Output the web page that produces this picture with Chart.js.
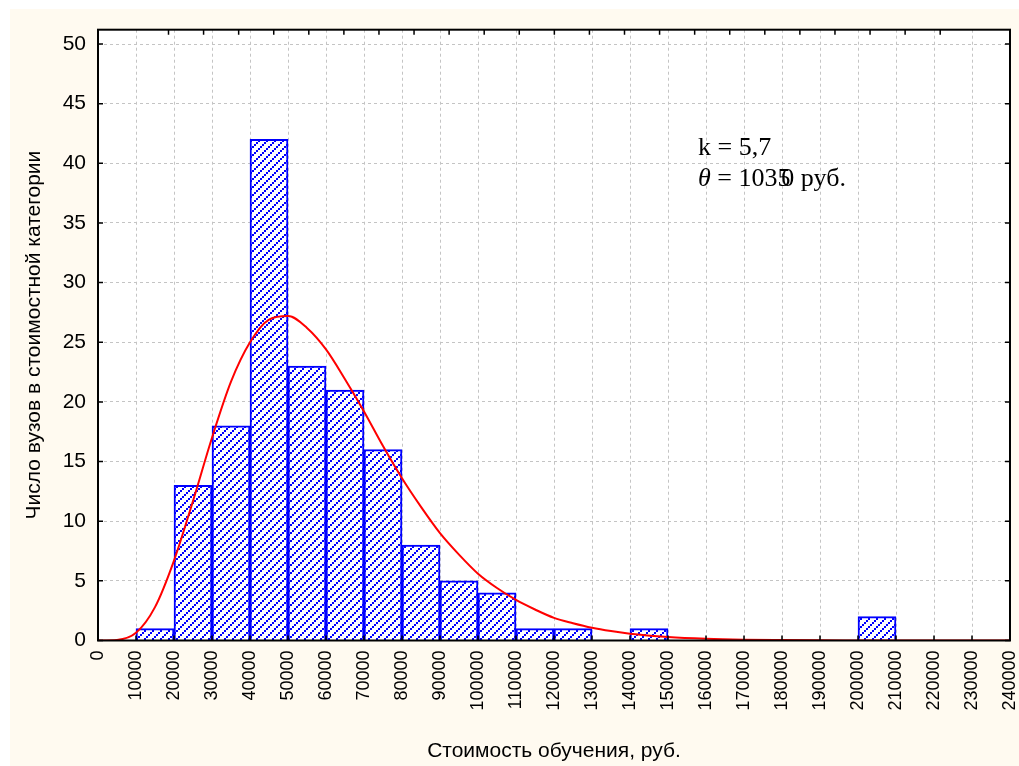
<!DOCTYPE html>
<html lang="ru">
<head>
    <meta charset="UTF-8">
    <title>Стоимость обучения</title>
    <script src="https://cdn.jsdelivr.net/npm/chart.js"></script>
    <style>
        body {
            margin: 0;
            background-color: #ffffff;
        }
        canvas {
            display: block;
        }
    </style>
</head>
<body>
    <canvas id="hist" width="1019" height="766"></canvas>

    <script>
        // Интервалы (левая граница, руб.) и число вузов
        const binLeft = [10000, 20000, 30000, 40000, 50000, 60000, 70000, 80000, 90000, 100000,
                         110000, 120000, 130000, 140000, 150000, 160000, 170000, 180000, 190000, 200000];
        const counts = [1, 13, 18, 42, 23, 21, 16, 8, 5, 4,
                        1, 1, 0, 1, 0, 0, 0, 0, 0, 2];
        const binWidth = 10000;

        // Гамма-кривая
        const curveX = [0, 5000, 10000, 15000, 20000, 25000, 30000, 35000, 40000, 45000,
                        50000, 55000, 60000, 65000, 70000, 75000, 80000, 85000, 90000, 95000,
                        100000, 105000, 110000, 115000, 120000, 125000, 130000, 135000, 140000, 150000,
                        160000, 170000, 180000, 190000, 200000, 220000, 240000];
        const curveY = [0, 0.05, 0.65, 2.8, 6.7, 11.7, 17.0, 21.7, 25.0, 26.9,
                        27.2, 26.2, 24.4, 21.9, 19.2, 16.3, 13.6, 11.2, 9.0, 7.2,
                        5.6, 4.4, 3.4, 2.6, 1.9, 1.45, 1.07, 0.79, 0.57, 0.3,
                        0.15, 0.07, 0.035, 0.015, 0.007, 0.001, 0];

        const xMin = 0, xMax = 240000, xStep = 10000;
        const yTicks = [0, 5, 10, 15, 20, 25, 30, 35, 40, 45, 50];
        const yMax = 51.2;

        // штриховка столбцов
        function makeHatch() {
            const c = document.createElement('canvas');
            c.width = 8; c.height = 8;
            const g = c.getContext('2d');
            g.fillStyle = '#ffffff';
            g.fillRect(0, 0, 8, 8);
            g.fillStyle = '#0000ff';
            g.fillRect(0, 6, 2, 2);
            g.fillRect(2, 4, 2, 2);
            g.fillRect(4, 2, 2, 2);
            g.fillRect(6, 0, 2, 2);
            return g.createPattern(c, 'repeat');
        }

        const sans = "'Liberation Sans', Arial, sans-serif";
        const serif = "'Liberation Serif', 'Times New Roman', serif";

        const framePlugin = {
            id: 'frame',
            beforeDraw(chart) {
                const {ctx, chartArea: a, width, height} = chart;
                ctx.save();
                ctx.fillStyle = '#ffffff';
                ctx.fillRect(0, 0, width, height);
                ctx.fillStyle = '#fffaf0';
                ctx.fillRect(10, 9, width - 10, height - 9);
                ctx.fillStyle = '#ffffff';
                ctx.fillRect(a.left, a.top, a.right - a.left, a.bottom - a.top);
                ctx.restore();
            },
            afterDatasetsDraw(chart) {
                const {ctx, chartArea: a, scales} = chart;
                ctx.save();
                ctx.strokeStyle = '#000000';
                ctx.lineWidth = 2;
                ctx.strokeRect(a.left, a.top, a.right - a.left, a.bottom - a.top);

                ctx.lineWidth = 1.5;
                ctx.beginPath();
                scales.y.ticks.forEach(t => {
                    const py = scales.y.getPixelForValue(t.value);
                    ctx.moveTo(a.left, py); ctx.lineTo(a.left + 5, py);
                    ctx.moveTo(a.right, py); ctx.lineTo(a.right - 5, py);
                });
                scales.x.ticks.forEach(t => {
                    const px = scales.x.getPixelForValue(t.value);
                    ctx.moveTo(px, a.bottom); ctx.lineTo(px, a.bottom - 5);
                });
                scales.x2.ticks.filter(t => Number.isInteger(t.value)).forEach(t => {
                    const px = scales.x2.getPixelForValue(t.value);
                    ctx.moveTo(px, a.top); ctx.lineTo(px, a.top + 5);
                });
                ctx.stroke();

                // подпись параметров
                const tx = scales.x.getPixelForValue(157900);
                const ty1 = scales.y.getPixelForValue(40.7);
                const ty2 = scales.y.getPixelForValue(38.1);
                ctx.fillStyle = '#000000';
                ctx.textBaseline = 'alphabetic';
                ctx.font = '26px ' + serif;
                ctx.fillText('k = 5,7', tx, ty1);
                ctx.font = 'italic 26px ' + serif;
                ctx.fillText('θ', tx, ty2);
                let cx = tx + ctx.measureText('θ').width;
                ctx.font = '26px ' + serif;
                ctx.fillText(' = 1035', cx, ty2);
                cx += ctx.measureText(' = 1035').width - ctx.measureText('5').width * 0.7;
                ctx.fillText('0 руб.', cx, ty2);
                ctx.restore();
            }
        };

        const ctx = document.getElementById('hist').getContext('2d');
        new Chart(ctx, {
            type: 'bar',
            data: {
                datasets: [{
                    type: 'line',
                    data: curveX.map((x, i) => ({x: x, y: curveY[i]})),
                    borderColor: '#ff0000',
                    borderWidth: 2,
                    pointRadius: 0,
                    cubicInterpolationMode: 'monotone',
                    fill: false,
                    order: 0
                },
                {
                    type: 'bar',
                    data: binLeft.map((x, i) => ({x: x + binWidth / 2, y: counts[i]})),
                    backgroundColor: makeHatch(),
                    borderColor: '#0000ff',
                    borderWidth: 2,
                    barPercentage: 1,
                    categoryPercentage: 1,
                    order: 1
                }]
            },
            options: {
                responsive: false,
                animation: false,
                layout: {
                    padding: {left: 22, top: 29.7, right: 9, bottom: 2}
                },
                plugins: {
                    legend: {display: false},
                    tooltip: {enabled: false}
                },
                scales: {
                    x: {
                        type: 'linear',
                        position: 'bottom',
                        offset: false,
                        min: xMin,
                        max: xMax,
                        afterFit: s => {
                            s.height = 123.5;
                            s.paddingLeft = 0;
                            s.paddingRight = 0;
                        },
                        grid: {
                            offset: false,
                            color: '#c4c4c4',
                            lineWidth: 1,
                            drawTicks: false
                        },
                        border: {display: false, dash: [3, 3]},
                        ticks: {
                            stepSize: xStep,
                            autoSkip: false,
                            maxRotation: 90,
                            minRotation: 90,
                            padding: 10,
                            color: '#000000',
                            font: {family: sans, size: 18},
                            callback: v => String(v)
                        },
                        title: {
                            display: true,
                            text: 'Стоимость обучения, руб.',
                            color: '#000000',
                            padding: 0,
                            font: {family: sans, size: 21}
                        }
                    },
                    x2: {
                        type: 'linear',
                        position: 'top',
                        display: false,
                        min: -0.49,
                        max: 24.47,
                        ticks: {stepSize: 1}
                    },
                    y: {
                        min: 0,
                        max: yMax,
                        afterFit: s => {
                            s.width = 76;
                            s.paddingTop = 0;
                            s.paddingBottom = 0;
                        },
                        afterBuildTicks: s => {
                            s.ticks = yTicks.map(v => ({value: v}));
                        },
                        grid: {
                            color: '#c4c4c4',
                            lineWidth: 1,
                            drawTicks: false
                        },
                        border: {display: false, dash: [3, 3]},
                        ticks: {
                            padding: 12,
                            color: '#000000',
                            font: {family: sans, size: 21},
                            callback: v => String(v)
                        },
                        title: {
                            display: true,
                            text: 'Число вузов в стоимостной категории',
                            color: '#000000',
                            padding: 0,
                            font: {family: sans, size: 21}
                        }
                    }
                }
            },
            plugins: [framePlugin]
        });
    </script>
</body>
</html>
